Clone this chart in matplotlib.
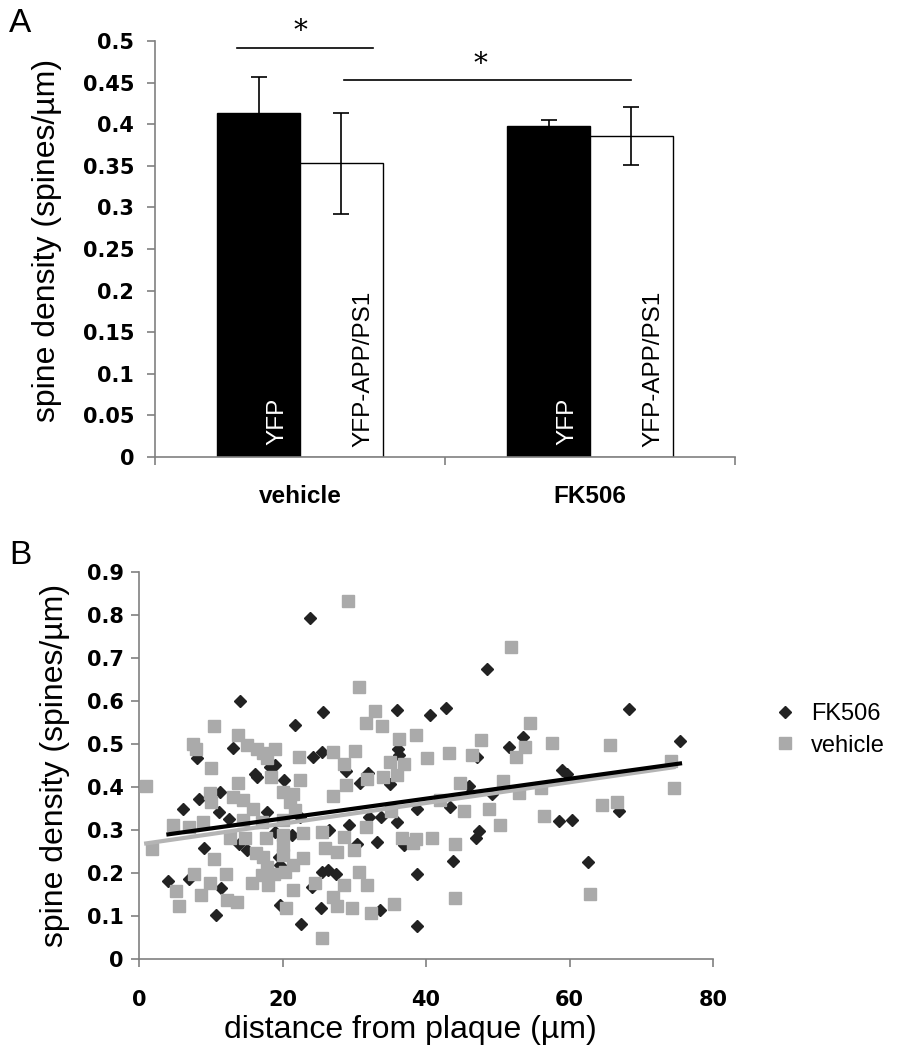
import matplotlib
matplotlib.use("Agg")
import matplotlib.pyplot as plt
import numpy as np

# panel A: mean spine density per group
groups = ["vehicle", "FK506"]
bar_names = ["YFP", "YFP-APP/PS1"]
yfp_mean = [0.413, 0.398]
yfp_err = [0.044, 0.007]
app_mean = [0.353, 0.386]
app_err = [0.061, 0.035]
a_ticks = [0, 0.05, 0.1, 0.15, 0.2, 0.25, 0.3, 0.35, 0.4, 0.45, 0.5]

# panel B: spine density vs distance from plaque
fk_x = [23.9, 14.1, 25.6, 21.7, 48.5, 35.9, 40.5, 42.8, 68.3, 53.5, 51.6, 75.4, 58.9, 59.7,
        58.5, 60.4, 66.9, 62.6, 36.1, 36.2, 25.5, 28.8, 47.1, 31.9, 30.8, 35.0, 46.0, 49.2,
        43.3, 47.4, 46.9, 38.8, 32.1, 33.7, 35.9, 29.2, 26.5, 33.2, 36.9, 30.4, 43.7, 26.4,
        27.4, 25.5, 38.8, 33.6, 25.4, 38.7, 13.1, 8.1, 18.3, 19.0, 24.3, 16.1, 16.5, 20.2,
        11.3, 8.3, 6.1, 11.1, 17.8, 12.6, 22.5, 21.3, 14.0, 18.9, 9.0, 15.0, 19.5, 19.7,
        4.1, 6.9, 11.4, 24.1, 19.7, 10.7, 22.6]
fk_y = [0.794, 0.600, 0.574, 0.544, 0.674, 0.578, 0.567, 0.584, 0.581, 0.517, 0.494, 0.508, 0.440, 0.430,
        0.320, 0.323, 0.344, 0.225, 0.488, 0.474, 0.482, 0.438, 0.469, 0.432, 0.409, 0.407, 0.402, 0.384,
        0.354, 0.298, 0.281, 0.348, 0.331, 0.330, 0.319, 0.312, 0.300, 0.272, 0.265, 0.267, 0.229, 0.207,
        0.197, 0.203, 0.197, 0.114, 0.119, 0.077, 0.490, 0.468, 0.447, 0.451, 0.469, 0.430, 0.424, 0.416,
        0.389, 0.371, 0.349, 0.343, 0.343, 0.325, 0.331, 0.288, 0.267, 0.296, 0.259, 0.253, 0.238, 0.219,
        0.181, 0.185, 0.164, 0.168, 0.126, 0.102, 0.081]

veh_x = [10.4, 29.1, 51.8, 30.6, 32.9, 31.6, 33.8, 38.6, 54.5, 53.8, 52.5, 57.5, 65.7, 74.2, 74.5,
         53.0, 56.0, 56.4, 64.5, 66.6, 62.8, 36.2, 47.7, 27.1, 30.1, 28.6, 35.0, 37.0, 40.1, 43.2,
         46.4, 31.8, 34.0, 36.0, 28.8, 27.0, 44.7, 50.8, 41.9, 45.3, 48.8, 50.3, 35.1, 31.6, 25.5,
         28.6, 36.6, 38.6, 40.8, 38.2, 44.0, 25.9, 27.6, 29.9, 30.6, 28.6, 31.8, 27.0, 27.6, 29.7,
         32.3, 35.5, 44.0, 25.5, 13.8, 7.5, 8.0, 15.0, 16.4, 17.3, 19.0, 17.9, 22.3, 10.1, 18.4,
         22.5, 1.0, 13.8, 9.9, 13.1, 20.1, 21.5, 10.1, 14.5, 15.9, 21.0, 21.7, 8.9, 4.7, 6.9,
         14.5, 17.1, 20.0, 22.9, 12.7, 14.8, 17.7, 20.1, 1.8, 16.3, 17.3, 20.1, 20.0, 22.9, 10.4,
         17.8, 21.5, 17.1, 18.8, 20.3, 7.7, 12.1, 9.9, 15.7, 18.0, 5.2, 21.5, 24.5, 8.6, 12.2,
         13.7, 5.6, 20.5]
veh_y = [0.543, 0.833, 0.725, 0.633, 0.576, 0.548, 0.542, 0.522, 0.548, 0.494, 0.470, 0.503, 0.497, 0.461, 0.398,
         0.387, 0.397, 0.333, 0.358, 0.365, 0.152, 0.511, 0.509, 0.481, 0.484, 0.453, 0.457, 0.453, 0.467, 0.478,
         0.474, 0.419, 0.424, 0.428, 0.405, 0.379, 0.410, 0.414, 0.370, 0.345, 0.350, 0.312, 0.345, 0.308, 0.296,
         0.283, 0.282, 0.278, 0.281, 0.269, 0.267, 0.257, 0.250, 0.253, 0.202, 0.171, 0.171, 0.145, 0.123, 0.119,
         0.106, 0.127, 0.143, 0.048, 0.521, 0.500, 0.488, 0.498, 0.488, 0.478, 0.488, 0.467, 0.470, 0.445, 0.424,
         0.416, 0.402, 0.409, 0.385, 0.377, 0.389, 0.384, 0.366, 0.370, 0.350, 0.366, 0.347, 0.319, 0.312, 0.306,
         0.323, 0.319, 0.323, 0.292, 0.281, 0.281, 0.281, 0.288, 0.255, 0.246, 0.238, 0.265, 0.242, 0.234, 0.232,
         0.215, 0.219, 0.195, 0.197, 0.203, 0.198, 0.198, 0.177, 0.176, 0.172, 0.159, 0.160, 0.177, 0.149, 0.137,
         0.133, 0.123, 0.118]

# linear trendlines (slope, intercept) as shown in the figure
fk_trend = (0.00231, 0.2805)
veh_trend = (0.00241, 0.2664)

b_xticks = [0, 20, 40, 60, 80]
b_yticks = [0, 0.1, 0.2, 0.3, 0.4, 0.5, 0.6, 0.7, 0.8, 0.9]

SANS = ["Liberation Sans", "Arial", "DejaVu Sans"]
TICKFONT = {"family": "DejaVu Sans", "weight": "bold", "size": 15}
AXCOL = "#808080"

W, H = 901, 1050
fig = plt.figure(figsize=(W / 100, H / 100), dpi=100)


def px_axes(l, t, r, b):
    return fig.add_axes([l / W, 1 - b / H, (r - l) / W, (b - t) / H])


def style_axes(ax):
    for s in ["top", "right"]:
        ax.spines[s].set_visible(False)
    for s in ["left", "bottom"]:
        ax.spines[s].set_color(AXCOL)
        ax.spines[s].set_linewidth(1.2)
    ax.tick_params(which="major", direction="out", length=6, width=1.2, color=AXCOL)


# ---------------- panel A ----------------
axA = px_axes(155, 41, 735, 457)
style_axes(axA)
centers = np.arange(len(groups)) + 0.5
bw = 0.285
x_yfp = centers - bw / 2
x_app = centers + bw / 2
axA.bar(x_yfp, yfp_mean, bw, color="black", edgecolor="black", linewidth=1, zorder=2)
axA.bar(x_app, app_mean, bw, color="white", edgecolor="black", linewidth=1, zorder=2)
axA.errorbar(x_yfp, yfp_mean, yerr=yfp_err, fmt="none", ecolor="black", elinewidth=1.2,
             capsize=6, capthick=1.2, zorder=3)
axA.errorbar(x_app, app_mean, yerr=app_err, fmt="none", ecolor="black", elinewidth=1.2,
             capsize=6, capthick=1.2, zorder=3)
for i in range(len(groups)):
    axA.text(x_yfp[i] + 0.066, 0.015, bar_names[0], rotation=90, ha="center", va="bottom",
             color="white", fontsize=17.5, family=SANS, zorder=4)
    axA.text(x_app[i] + 0.076, 0.012, bar_names[1], rotation=90, ha="center", va="bottom",
             color="black", fontsize=17.5, family=SANS, zorder=4)

axA.set_xlim(0, 2)
axA.set_ylim(0, 0.5)
axA.set_yticks(a_ticks)
axA.set_yticklabels([f"{v:g}" for v in a_ticks], fontdict=TICKFONT)
axA.set_xticks([0, 1, 2])
axA.set_xticklabels([])
axA.set_xticks(centers, minor=True)
axA.set_xticklabels(groups, minor=True, fontsize=17.5, fontweight="bold", family=SANS)
axA.tick_params(axis="x", which="minor", length=0, pad=20)
axA.tick_params(axis="y", pad=9)

# significance bars
axA.plot([0.283, 0.752], [0.4916, 0.4916], color="black", lw=1.2, clip_on=False)
axA.text(0.503, 0.511, "*", ha="center", va="center", fontsize=20, family="DejaVu Serif", clip_on=False)
axA.plot([0.652, 1.641], [0.453, 0.453], color="black", lw=1.2, clip_on=False)
axA.text(1.124, 0.472, "*", ha="center", va="center", fontsize=20, family="DejaVu Serif", clip_on=False)

fig.text(20 / W, 1 - 24 / H, "A", ha="center", va="center", fontsize=24, family=SANS)
fig.text(47 / W, 1 - 240 / H, "spine density (spines/\u00b5m)", rotation=90, ha="center",
         va="center", fontsize=23, family=SANS)

# ---------------- panel B ----------------
axB = px_axes(139, 572, 713, 959)
style_axes(axB)
axB.plot(fk_x, fk_y, linestyle="none", marker="D", markersize=6.3, color="#222222",
         label="FK506", zorder=2)
axB.plot(veh_x, veh_y, linestyle="none", marker="s", markersize=8.4, color="#aaaaaa",
         label="vehicle", zorder=3)
for xs, (m, c), col, z in [(veh_x, veh_trend, "#b4b4b4", 4), (fk_x, fk_trend, "black", 5)]:
    tx = np.array([min(xs), max(xs)])
    axB.plot(tx, m * tx + c, color=col, lw=3, zorder=z)

axB.set_xlim(0, 80)
axB.set_ylim(0, 0.9)
axB.set_xticks(b_xticks)
axB.set_xticklabels([str(v) for v in b_xticks], fontdict=TICKFONT)
axB.set_yticks(b_yticks)
axB.set_yticklabels([f"{v:g}" for v in b_yticks], fontdict=TICKFONT)
axB.tick_params(axis="x", pad=16)
axB.tick_params(axis="y", pad=5)

leg = axB.legend(loc="center left", bbox_to_anchor=(752 / W, 1 - 730 / H), bbox_transform=fig.transFigure,
                 frameon=False, prop={"family": SANS, "size": 17}, handletextpad=0.6,
                 labelspacing=0.4, handlelength=1.0)

fig.text(20 / W, 1 - 555 / H, "B", ha="center", va="center", fontsize=24, family=SANS)
fig.text(55 / W, 1 - 765 / H, "spine density (spines/\u00b5m)", rotation=90, ha="center",
         va="center", fontsize=23, family=SANS)
fig.text(410 / W, 1 - 1030 / H, "distance from plaque (\u00b5m)", ha="center", va="center",
         fontsize=23, family=SANS)

fig.savefig("out.png", dpi=100)
